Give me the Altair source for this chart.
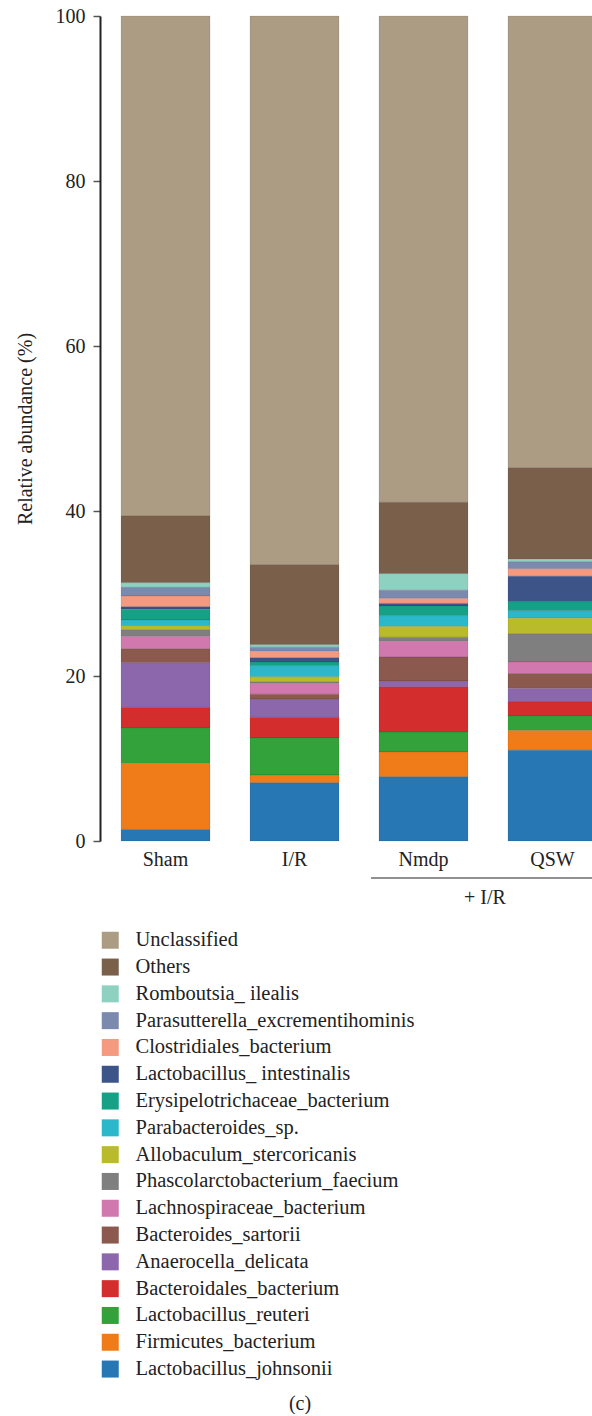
import altair as alt
import pandas as pd

# Groups along the x axis
groups = ["Sham", "I/R", "Nmdp", "QSW"]

# Taxa, listed from the top of each stack down to the bottom
taxa = [
    "Unclassified",
    "Others",
    "Romboutsia_ ilealis",
    "Parasutterella_excrementihominis",
    "Clostridiales_bacterium",
    "Lactobacillus_ intestinalis",
    "Erysipelotrichaceae_bacterium",
    "Parabacteroides_sp.",
    "Allobaculum_stercoricanis",
    "Phascolarctobacterium_faecium",
    "Lachnospiraceae_bacterium",
    "Bacteroides_sartorii",
    "Anaerocella_delicata",
    "Bacteroidales_bacterium",
    "Lactobacillus_reuteri",
    "Firmicutes_bacterium",
    "Lactobacillus_johnsonii",
]

colors = [
    "#ad9c84", "#7a604a", "#8fd1c0", "#7c89ae", "#f39a80", "#3c5488",
    "#16a086", "#2bb8ca", "#b9bb2b", "#7f7f7f", "#d178ae", "#8b594d",
    "#8d67ac", "#d42d2e", "#33a23a", "#ef7b19", "#2677b4",
]

# Relative abundance (%) per group, same order as taxa (top -> bottom)
sham = [60.6, 8.1, 0.55, 1.05, 1.3, 0.3, 1.3, 0.7, 0.5, 0.8, 1.5, 1.7, 5.4, 2.5, 4.3, 8.0, 1.4]
ir = [66.5, 9.7, 0.3, 0.5, 0.8, 0.5, 0.45, 1.35, 0.6, 0.2, 1.3, 0.6, 2.2, 2.5, 4.5, 0.93, 7.07]
nmdp = [58.95, 8.65, 2.0, 1.0, 0.6, 0.3, 1.2, 1.3, 1.3, 0.5, 1.9, 2.9, 0.7, 5.5, 2.4, 3.0, 7.8]
qsw = [54.75, 11.1, 0.3, 0.85, 0.9, 3.1, 1.1, 0.9, 1.9, 3.4, 1.4, 1.8, 1.65, 1.7, 1.75, 2.4, 11.0]

values = {"Sham": sham, "I/R": ir, "Nmdp": nmdp, "QSW": qsw}

rows = []
for g in groups:
    for i, (t, v) in enumerate(zip(taxa, values[g])):
        rows.append({"group": g, "taxon": t, "value": v, "rank": len(taxa) - i})
df = pd.DataFrame(rows)

FONT = "Liberation Serif"
INK = "#222222"

bars = alt.Chart(df).mark_bar(
    stroke="#000000", strokeOpacity=0.15, strokeWidth=0.6
).encode(
    x=alt.X(
        "group:N",
        sort=groups,
        scale=alt.Scale(range=[0, 518], paddingInner=0.31, paddingOuter=0.163),
        axis=alt.Axis(
            title=None, domain=False, ticks=False, labelAngle=0,
            labelFont=FONT, labelFontSize=20, labelColor=INK, labelPadding=8,
        ),
    ),
    y=alt.Y(
        "value:Q",
        stack="zero",
        scale=alt.Scale(domain=[0, 100], nice=False),
        axis=alt.Axis(
            title="Relative abundance (%)",
            values=[0, 20, 40, 60, 80, 100],
            grid=False,
            domainColor=INK, domainWidth=2,
            tickColor="#555555", tickWidth=1.5, tickSize=7,
            labelFont=FONT, labelFontSize=20, labelColor=INK, labelPadding=8,
            titleFont=FONT, titleFontSize=20, titleFontWeight="normal",
            titleColor=INK, titlePadding=20,
        ),
    ),
    color=alt.Color(
        "taxon:N",
        scale=alt.Scale(domain=taxa, range=colors),
        legend=alt.Legend(
            title=None, orient="none", legendX=0, legendY=914,
            symbolType="square", symbolSize=289, symbolStrokeWidth=0,
            symbolOpacity=1,
            labelFont=FONT, labelFontSize=20.5, labelColor=INK,
            labelOffset=15, rowPadding=5.8, labelLimit=400,
        ),
    ),
    order=alt.Order("rank:Q", sort="ascending"),
)

anno = pd.DataFrame({"k": [0]})

bracket = alt.Chart(anno).mark_rule(color=INK, strokeWidth=1.2).encode(
    x=alt.value(271), x2=alt.value(520), y=alt.value(862)
)

sub_label = alt.Chart(anno).mark_text(
    font=FONT, fontSize=20, color=INK, align="center", baseline="middle"
).encode(x=alt.value(385), y=alt.value(882), text=alt.value("+ I/R"))

panel_label = alt.Chart(anno).mark_text(
    font=FONT, fontSize=20, color=INK, align="center", baseline="middle"
).encode(x=alt.value(200), y=alt.value(1388), text=alt.value("(c)"))

chart = alt.layer(bars, bracket, sub_label, panel_label).properties(
    width=492,
    height=825,
    autosize=alt.AutoSizeParams(type="none"),
    padding={"left": 100, "top": 16, "right": 0, "bottom": 573},
).configure_view(stroke=None)

chart.save("out.html", embed_options={"renderer": "svg", "actions": False})
